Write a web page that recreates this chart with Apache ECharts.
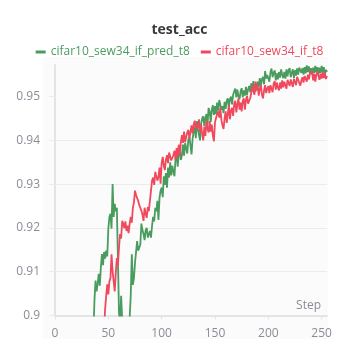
<!DOCTYPE html>
<html>
<head>
<meta charset="utf-8">
<script src="https://cdn.jsdelivr.net/npm/echarts@6/dist/echarts.min.js"></script>
<style>
  html, body { margin: 0; padding: 0; background: #fff; }
  #chart { width: 359px; height: 359px; }
</style>
</head>
<body>
<div id="chart"></div>
<script>
// data
const seriesNames = ["cifar10_sew34_if_pred_t8", "cifar10_sew34_if_t8"];
const xTicks = [0, 50, 100, 150, 200, 250];
const yTicks = [0.9, 0.91, 0.92, 0.93, 0.94, 0.95];

// green run, one value per step from step 30
const predStart = 30;
const predAcc = [
  0.886, 0.889, 0.887, 0.891, 0.889, 0.893, 0.896,
  0.9035, 0.908, 0.9055, 0.9072, 0.9095, 0.9068, 0.911, 0.914, 0.9115, 0.9145, 0.913, 0.9148, 0.9135,
  0.9198, 0.9225, 0.9232, 0.9198, 0.930, 0.9225, 0.9255, 0.9238, 0.9246, 0.9128,
  0.9005, 0.8985, 0.9045, 0.899, 0.896, 0.8945, 0.894, 0.8945, 0.896, 0.8985,
  0.8995, 0.9045, 0.914, 0.907, 0.9085, 0.912, 0.9145, 0.917, 0.9148, 0.9155,
  0.9162, 0.921, 0.9195, 0.9186, 0.9172, 0.9195, 0.920, 0.9178, 0.9185, 0.9193,
  0.9178, 0.9205, 0.9225, 0.9215, 0.9246, 0.9238, 0.9262, 0.9218, 0.9269, 0.9285,
  0.9292, 0.9270, 0.9318, 0.9298, 0.9325, 0.9292, 0.9338, 0.9315, 0.9350, 0.9320,
  0.9342, 0.9328, 0.9318, 0.9358, 0.9372, 0.9340, 0.9368, 0.9380, 0.9355, 0.9366,
  0.9390, 0.9365, 0.9394, 0.9398, 0.9370, 0.9402, 0.9408, 0.9412, 0.9368, 0.9404,
  0.9420, 0.9430, 0.9405, 0.9444, 0.9425, 0.9412, 0.9400, 0.9438, 0.9450, 0.9455,
  0.9432, 0.9452, 0.9460, 0.9436, 0.9474, 0.9465, 0.9442, 0.9470, 0.9480, 0.9458,
  0.9478, 0.9460, 0.9486, 0.9468, 0.9492, 0.9488, 0.9470, 0.9478, 0.9462, 0.9488,
  0.9472, 0.9490, 0.9496, 0.9476, 0.9494, 0.9500, 0.9482, 0.9504, 0.9512, 0.9518,
  0.9498, 0.9516, 0.9500, 0.9494, 0.9512, 0.9519, 0.9498, 0.9514, 0.9502, 0.9522,
  0.9504, 0.9516, 0.9524, 0.9510, 0.9530, 0.9516, 0.9535, 0.9520, 0.9511, 0.9526,
  0.9534, 0.9522, 0.9542, 0.9525, 0.9539, 0.9545, 0.9528, 0.9558, 0.9541, 0.9549,
  0.9541, 0.9534, 0.9556, 0.9564, 0.9544, 0.9554, 0.9560, 0.9537, 0.9553, 0.9539,
  0.9556, 0.9543, 0.9562, 0.9550, 0.9542, 0.9556, 0.9541, 0.9562, 0.9546, 0.9560,
  0.9565, 0.9544, 0.9554, 0.9562, 0.9542, 0.9560, 0.9548, 0.9564, 0.9550, 0.9566,
  0.9569, 0.9554, 0.9565, 0.9550, 0.9567, 0.9553, 0.9571, 0.9556, 0.9569, 0.9552,
  0.9565, 0.9550, 0.9566, 0.9554, 0.9570, 0.9555, 0.9567, 0.9551, 0.9566, 0.9554,
  0.9570, 0.9556, 0.9567, 0.9552, 0.9561, 0.9556
];

// red run, one value per step from step 40
const baseStart = 40;
const baseAcc = [
  0.884, 0.887, 0.889, 0.891, 0.893, 0.894, 0.897,
  0.9015, 0.9045, 0.9071, 0.9048, 0.9078, 0.9085, 0.914, 0.9101, 0.9078, 0.9055, 0.9098, 0.9131, 0.9115,
  0.9155, 0.9186, 0.9176, 0.9216, 0.921, 0.9199, 0.9215, 0.9193, 0.9205, 0.9188,
  0.9209, 0.9225, 0.9212, 0.9246, 0.9258, 0.9285, 0.9275, 0.9268, 0.9262, 0.9252,
  0.9246, 0.9239, 0.923, 0.9216, 0.9246, 0.9232, 0.9223, 0.9248, 0.9238, 0.9262,
  0.9285, 0.9308, 0.9315, 0.9298, 0.9328, 0.9324, 0.9308, 0.9316, 0.9338, 0.9301,
  0.9348, 0.9362, 0.9342, 0.9332, 0.9356, 0.9366, 0.9348, 0.9372, 0.9376, 0.9354,
  0.9350, 0.9366, 0.9376, 0.9356, 0.9382, 0.9362, 0.9390, 0.9366, 0.9396, 0.9412,
  0.9394, 0.9420, 0.9396, 0.9408, 0.9418, 0.9424, 0.9404, 0.9400, 0.9434, 0.9416,
  0.9436, 0.9445, 0.9426, 0.9436, 0.9428, 0.9448, 0.9418, 0.9436, 0.9414, 0.9400,
  0.9430, 0.9410, 0.9445, 0.9426, 0.9418, 0.9444, 0.9420, 0.9436, 0.9410, 0.9398,
  0.9442, 0.9440, 0.9460, 0.9466, 0.9452, 0.9474, 0.9446, 0.9434, 0.9426, 0.9450,
  0.9466, 0.9440, 0.9460, 0.9480, 0.9448, 0.9468, 0.9474, 0.9456, 0.9484, 0.9490,
  0.9464, 0.9482, 0.9496, 0.9470, 0.9486, 0.9466, 0.9490, 0.9496, 0.9470, 0.9492,
  0.9502, 0.9484, 0.9480, 0.9496, 0.9508, 0.9526, 0.9512, 0.9504, 0.9534, 0.9514,
  0.9526, 0.9502, 0.9518, 0.9526, 0.9504, 0.9496, 0.9514, 0.9526, 0.9508, 0.9518,
  0.9524, 0.9508, 0.9526, 0.9528, 0.9510, 0.9530, 0.9535, 0.9516, 0.9532, 0.9520,
  0.9514, 0.9532, 0.9518, 0.9537, 0.9521, 0.9534, 0.9535, 0.9518, 0.9538, 0.9542,
  0.9524, 0.9539, 0.9537, 0.9522, 0.9540, 0.9542, 0.9526, 0.9545, 0.9547, 0.9531,
  0.9525, 0.9537, 0.9544, 0.9532, 0.9547, 0.9549, 0.9534, 0.9550, 0.9539, 0.9552,
  0.9556, 0.9558, 0.9537, 0.9552, 0.9534, 0.9550, 0.9556, 0.9554, 0.9538, 0.9552,
  0.9541, 0.9556, 0.9542, 0.9554, 0.9540, 0.9547
];

const colors = ["#4a9b5e", "#f0485c"];
const labelColor = "#8a8d96";
const fontFamily = "'Open Sans', 'DejaVu Sans', sans-serif";

function toPairs(start, values) {
  return values.map((v, i) => [start + i, v]);
}

const chart = echarts.init(document.getElementById("chart"));

chart.setOption({
  animation: false,
  backgroundColor: "#fff",
  textStyle: { fontFamily: fontFamily },
  graphic: [
    {
      type: "rect",
      shape: { x: 43, y: 57, width: 285, height: 282 },
      style: { fill: "#fbfbfb" },
      silent: true,
      z: -10,
    },
  ],
  title: {
    text: "test_acc",
    left: "center",
    top: 18,
    textStyle: { fontSize: 14, fontWeight: "bold", color: "#3a3a3a", fontFamily: fontFamily },
  },
  legend: {
    top: 41,
    left: "center",
    icon: "rect",
    itemWidth: 10,
    itemHeight: 3,
    itemGap: 11,
    textStyle: { fontSize: 12, fontFamily: fontFamily },
    data: [
      { name: seriesNames[0], textStyle: { color: colors[0] } },
      { name: seriesNames[1], textStyle: { color: colors[1] } },
    ],
  },
  grid: { left: 55, right: 32, top: 65, bottom: 43.5 },
  xAxis: {
    type: "value",
    min: 0,
    max: 255,
    interval: 50,
    name: "Step",
    nameLocation: "end",
    nameGap: -6,
    nameTextStyle: {
      color: labelColor,
      fontSize: 12,
      align: "right",
      verticalAlign: "bottom",
      padding: [0, 0, 4, 0],
    },
    axisLine: { show: true, lineStyle: { color: "#e4e4e4", width: 2 } },
    axisTick: { show: true, inside: false, length: 4, customValues: xTicks, lineStyle: { color: "#e4e4e4" } },
    axisLabel: { customValues: xTicks, color: labelColor, fontSize: 12, margin: 12 },
    splitLine: { show: false },
  },
  yAxis: {
    type: "value",
    min: 0.9,
    max: 0.9572,
    interval: 0.01,
    axisLine: { show: true, lineStyle: { color: "#e4e4e4", width: 2 } },
    axisTick: { show: true, length: 6, customValues: yTicks, lineStyle: { color: "#ececec" } },
    axisLabel: {
      customValues: yTicks,
      color: labelColor,
      fontSize: 12,
      margin: 15,
      formatter: (v) => String(Math.round(v * 100) / 100),
    },
    splitLine: { show: true, showMaxLine: false, lineStyle: { color: "#ececec", width: 1 } },
  },
  series: [
    {
      name: seriesNames[0],
      type: "line",
      data: toPairs(predStart, predAcc),
      showSymbol: false,
      clip: true,
      color: colors[0],
      lineStyle: { width: 1.8 },
    },
    {
      name: seriesNames[1],
      type: "line",
      data: toPairs(baseStart, baseAcc),
      showSymbol: false,
      clip: true,
      color: colors[1],
      lineStyle: { width: 1.8 },
    },
  ],
});

window.addEventListener("resize", () => {
  chart.resize();
});
</script>
</body>
</html>
